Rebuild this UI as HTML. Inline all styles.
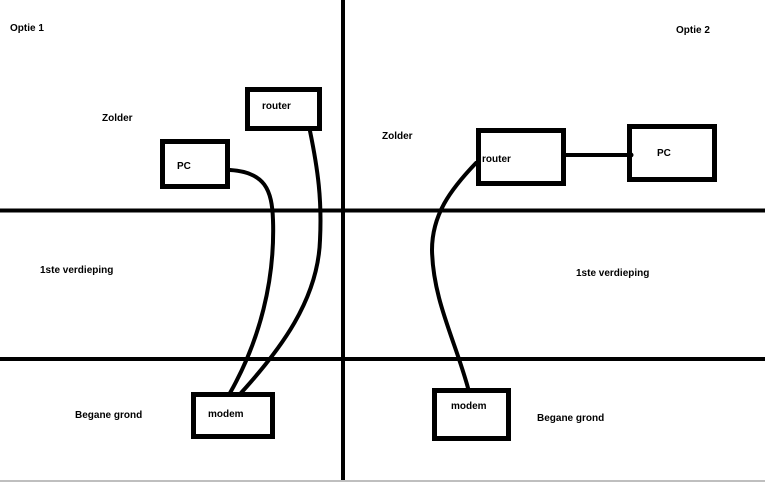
<!DOCTYPE html>
<html><head><meta charset="utf-8"><style>
html,body{margin:0;padding:0;background:#fff;width:765px;height:482px;overflow:hidden}
svg{display:block}
text{font-family:"Liberation Sans",sans-serif;font-weight:bold;font-size:10px;fill:#000}
</style></head><body>
<svg width="765" height="482" viewBox="0 0 765 482" xmlns="http://www.w3.org/2000/svg">
<rect x="0" y="0" width="765" height="482" fill="#fff"/>
<g stroke="#000" stroke-width="4" fill="none">
<line x1="343" y1="0" x2="343" y2="480"/>
<line x1="0" y1="210.5" x2="765" y2="210.5"/>
<line x1="0" y1="359" x2="765" y2="359"/>
</g>
<line x1="0" y1="481" x2="765" y2="481" stroke="#aaa" stroke-width="1.5"/>
<g stroke="#000" stroke-width="5" fill="#fff">
<rect x="247.5" y="89.5" width="72" height="39"/>
<rect x="162.5" y="141.5" width="65" height="45"/>
<rect x="193.5" y="394.5" width="79" height="42"/>
<rect x="434.5" y="390.5" width="74" height="48"/>
<rect x="478.5" y="130.5" width="85" height="53"/>
<rect x="629.5" y="126.5" width="85" height="53"/>
</g>
<g stroke="#000" stroke-width="4" fill="none" stroke-linecap="round">
<path d="M230 170 C265 172 272 190 273 220 C275 280 260 340 230 393"/>
<path d="M310 131 C318 170 322 200 320 240 C318 300 280 350 241 393"/>
<path d="M476 163 C450 190 432 215 432 250 C433 300 455 340 468 388"/>
<line x1="566" y1="155" x2="631" y2="155"/>
</g>
<circle cx="631" cy="155" r="2.5" fill="#000"/>
<text x="10" y="31">Optie 1</text>
<text x="676" y="33">Optie 2</text>
<text x="102" y="121">Zolder</text>
<text x="382" y="139">Zolder</text>
<text x="40" y="273">1ste verdieping</text>
<text x="576" y="276">1ste verdieping</text>
<text x="75" y="418">Begane grond</text>
<text x="537" y="421">Begane grond</text>
<text x="262" y="109">router</text>
<text x="177" y="169">PC</text>
<text x="482" y="162">router</text>
<text x="657" y="156">PC</text>
<text x="208" y="417">modem</text>
<text x="451" y="409">modem</text>
</svg>
</body></html>
